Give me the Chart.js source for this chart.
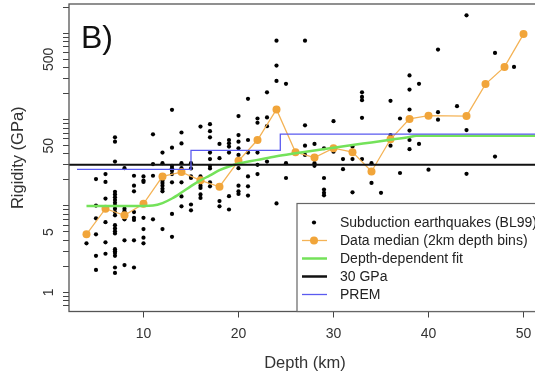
<!DOCTYPE html>
<html>
<head>
<meta charset="utf-8">
<script src="https://cdn.jsdelivr.net/npm/chart.js@4/dist/chart.umd.min.js"></script>
<style>
    html, body { margin: 0; padding: 0; background: #fff; overflow: hidden; }
    #wrap { width: 545px; height: 377px; }
</style>
</head>
<body>
<div id="wrap"><canvas id="rigidity-chart" width="545" height="377"></canvas></div>
<script>
// earthquakes (BL99), one depth per value
const quakeDepths = [
    4,
    5, 5, 5, 5, 5, 5,
    6, 6, 6, 6, 6, 6,
    7, 7, 7, 7, 7, 7, 7, 7, 7, 7, 7, 7, 7, 7, 7, 7, 7, 7, 7, 7, 7, 7,
    8, 8, 8, 8, 8, 8,
    9, 9, 9, 9, 9, 9, 9, 9,
    10, 10, 10, 10, 10, 10, 10,
    11, 11, 11, 11,
    12, 12, 12, 12, 12, 12, 12, 12,
    13, 13, 13, 13, 13, 13, 13, 13, 13,
    14, 14, 14, 14, 14, 14, 14, 14,
    15, 15, 15, 15, 15, 15,
    16, 16, 16, 16, 16, 16,
    17, 17, 17, 17, 17, 17, 17, 17, 17,
    18, 18, 18, 18,
    19, 19, 19, 19, 19, 19,
    20, 20, 20, 20, 20, 20, 20, 20, 20,
    21, 21, 21, 21, 21, 21,
    22, 22, 22, 22, 22,
    23, 23, 23, 23,
    24, 24, 24, 24,
    25, 25, 25,
    27, 27, 27, 27,
    28, 28, 28,
    29, 29, 29, 29, 29,
    30, 30,
    31, 31,
    32, 32, 32,
    33, 33, 33, 33, 33,
    34, 34,
    35,
    36, 36, 36,
    37, 37,
    38, 38, 38, 38, 38, 38,
    39, 39,
    40,
    41, 41, 41,
    43,
    44, 44, 44,
    47, 47,
    49
];
const quakeRigidity = [
    3.7,
    20.5, 10.1, 7.2, 4.7, 2.65, 1.82,
    23.4, 19.0, 12.2, 6.5, 3.8, 2.8,
    62.4, 55.5, 32.7, 14.6, 13.6, 12.6, 11.7, 10.9, 10.1, 9.3, 8.5, 7.8, 6.0, 5.5, 5.1, 4.8, 3.16, 3.0, 2.85, 2.65, 1.94, 1.68,
    27.4, 9.3, 8.7, 7.0, 4.0, 2.07,
    22.4, 17.2, 14.8, 8.5, 7.3, 6.9, 4.0, 1.94,
    22.0, 19.7, 19.0, 7.3, 5.4, 4.3, 3.7,
    67.5, 30.6, 22.4, 7.0,
    41.6, 31.3, 19.7, 18.5, 17.2, 15.8, 14.8, 5.4,
    130, 47.3, 29.2, 27.4, 25.6, 23.4, 18.8, 8.1, 4.4,
    71, 53, 31.3, 27.4, 25.8, 18.8, 12.9, 9.9,
    31.3, 27.2, 22.0, 21.1, 10.4, 8.9,
    83, 22, 17.2, 16.2, 13.6, 12.4,
    88.6, 73.6, 62.4, 41.6, 34.9, 29.2, 27.2, 18.8, 16.9,
    52.3, 35.8, 11.4, 9.9,
    58.1, 53.2, 48.7, 41.6, 13, 9.1,
    110, 66.3, 55.5, 46.6, 39, 27.4, 17.2, 14.8, 13.8,
    174, 58.1, 41.6, 22, 16.9, 13.2,
    103, 92, 41.6, 30, 23.4,
    207, 106, 84, 32.7,
    820, 423, 281, 10.7,
    260, 31.3, 21.1,
    820, 86, 50, 39,
    52.3, 31.3, 29.2,
    46.6, 21.1, 15.5, 14.2, 13.3,
    96, 42.6,
    34.9, 26.7,
    48.7, 34.9, 14.4,
    207, 183, 168, 105, 34.9,
    31.3, 18.5,
    14.2,
    165, 66.3, 50,
    103, 24.1,
    325, 223, 131, 74.6, 58.1, 45.5,
    260, 52.3,
    26.3,
    647, 122, 100,
    143,
    1615, 75.7, 23.6,
    593, 37.3,
    408
];

// data median in 2 km depth bins
const medianDepths = [4, 6, 8, 10, 12, 14, 16, 18, 20, 22, 24, 26, 28, 30, 32, 34, 36, 38, 40, 44, 46, 48, 50];
const medianRigidity = [4.7, 9.3, 7.8, 10.6, 22.0, 24.7, 19.8, 16.7, 33.3, 58.1, 131, 42.0, 36.4, 46.7, 42.0, 25.1, 59.2, 102, 111, 110, 258, 408, 979];

// depth-dependent fit
const fitDepths = [4, 10, 11, 12, 13, 14, 15, 16, 17, 18, 19, 20, 22, 24, 26, 28, 30, 32, 34, 36, 38, 38.7, 52];
const fitRigidity = [10, 10, 10.1, 10.8, 12.2, 14.3, 17, 19.8, 22.6, 26, 28.7, 31, 34.2, 37.7, 40.8, 44, 47.3, 50.8, 54.5, 58.5, 63, 65, 65];

// PREM steps
const premDepths = [3, 15, 15, 24.4, 24.4, 52];
const premRigidity = [26.6, 26.6, 44.1, 44.1, 67.8, 67.8];

const refRigidity = 30;

const xTicks = [10, 20, 30, 40, 50];
const yLabels = [1, 5, 50, 500];
const yMantissas = [1, 2, 3, 4, 5, 6, 7, 8, 9];

const xMin = 2.16, xMax = 51.84;
const yMin = 0.621, yMax = 2183;

const legendItems = [
    { text: 'Subduction earthquakes (BL99)', kind: 'dot' },
    { text: 'Data median (2km depth bins)', kind: 'median' },
    { text: 'Depth-dependent fit', kind: 'line', color: '#74e25a', width: 2.5 },
    { text: '30 GPa', kind: 'line', color: '#111', width: 2.5 },
    { text: 'PREM', kind: 'line', color: '#5a5af0', width: 1.3 }
];

const orangePoint = '#f1a53a';
const orangeLine = '#f4b356';
const fontName = '"Liberation Sans", Arial, sans-serif';

document.addEventListener('DOMContentLoaded', () => {
    const ctx = document.getElementById('rigidity-chart').getContext('2d');

    const toPoints = (xs, ys) => xs.map((x, i) => ({ x, y: ys[i] }));

    const yTickValues = [0.7, 0.8, 0.9];
    [1, 10, 100, 1000].forEach(dec => yMantissas.forEach(m => yTickValues.push(m * dec)));
    yTickValues.push(2000);

    const decorPlugin = {
        id: 'decor',
        afterDatasetsDraw(chart) {
            const c = chart.ctx;
            const area = chart.chartArea;
            const yScale = chart.scales.y;

            c.save();
            // plot frame
            c.strokeStyle = '#555';
            c.lineWidth = 1.3;
            c.strokeRect(area.left, area.top, area.right - area.left, area.bottom - area.top);

            // panel letter
            c.fillStyle = '#111';
            c.font = '32px ' + fontName;
            c.textAlign = 'left';
            c.textBaseline = 'alphabetic';
            c.fillText('B)', 81, 48);

            // y tick labels, rotated like R
            c.font = '14px ' + fontName;
            c.fillStyle = '#333';
            yLabels.forEach(v => {
                const py = yScale.getPixelForValue(v);
                c.save();
                c.translate(53, py);
                c.rotate(-Math.PI / 2);
                c.textAlign = 'center';
                c.fillText(String(v), 0, 0);
                c.restore();
            });

            // axis titles
            c.font = '16.5px ' + fontName;
            c.textAlign = 'center';
            c.textBaseline = 'middle';
            c.fillText('Depth (km)', (area.left + area.right) / 2, 363);
            c.save();
            c.translate(18, (area.top + area.bottom) / 2);
            c.rotate(-Math.PI / 2);
            c.fillText('Rigidity (GPa)', 0, 0);
            c.restore();

            // legend box
            const boxLeft = 297, boxTop = 203.5;
            c.fillStyle = '#fff';
            c.fillRect(boxLeft, boxTop, 260, area.bottom - boxTop);
            c.strokeStyle = '#666';
            c.lineWidth = 1.2;
            c.strokeRect(boxLeft, boxTop, 260, area.bottom - boxTop);

            legendItems.forEach((item, i) => {
                const ry = 222.5 + i * 18;
                if (item.kind === 'dot') {
                    c.fillStyle = '#000';
                    c.beginPath();
                    c.arc(314, ry, 2.1, 0, Math.PI * 2);
                    c.fill();
                } else if (item.kind === 'median') {
                    c.strokeStyle = orangeLine;
                    c.lineWidth = 1.3;
                    c.beginPath();
                    c.moveTo(302, ry);
                    c.lineTo(327, ry);
                    c.stroke();
                    c.fillStyle = orangePoint;
                    c.beginPath();
                    c.arc(314, ry, 4, 0, Math.PI * 2);
                    c.fill();
                } else {
                    c.strokeStyle = item.color;
                    c.lineWidth = item.width;
                    c.beginPath();
                    c.moveTo(302, ry);
                    c.lineTo(327, ry);
                    c.stroke();
                }
                c.fillStyle = '#222';
                c.font = '14px ' + fontName;
                c.textAlign = 'left';
                c.textBaseline = 'middle';
                c.fillText(item.text, 340, ry + 0.5);
            });
            c.restore();
        }
    };

    new Chart(ctx, {
        type: 'scatter',
        data: {
            datasets: [
                {
                    label: 'PREM',
                    data: toPoints(premDepths, premRigidity),
                    showLine: true,
                    borderColor: '#5a5af0',
                    borderWidth: 1.3,
                    pointRadius: 0,
                    order: 1
                },
                {
                    label: '30 GPa',
                    data: [{ x: xMin, y: refRigidity }, { x: xMax, y: refRigidity }],
                    showLine: true,
                    borderColor: '#111',
                    borderWidth: 2,
                    pointRadius: 0,
                    order: 2
                },
                {
                    label: 'Depth-dependent fit',
                    data: toPoints(fitDepths, fitRigidity),
                    showLine: true,
                    borderColor: '#74e25a',
                    borderWidth: 2.5,
                    pointRadius: 0,
                    cubicInterpolationMode: 'monotone',
                    order: 3
                },
                {
                    label: 'Data median (2km depth bins)',
                    data: toPoints(medianDepths, medianRigidity),
                    showLine: true,
                    borderColor: orangeLine,
                    borderWidth: 1.3,
                    pointRadius: 4,
                    pointBackgroundColor: orangePoint,
                    pointBorderWidth: 0,
                    order: 4
                },
                {
                    label: 'Subduction earthquakes (BL99)',
                    data: toPoints(quakeDepths, quakeRigidity),
                    pointRadius: 2.1,
                    pointBackgroundColor: '#000',
                    pointBorderWidth: 0,
                    order: 5
                }
            ]
        },
        options: {
            responsive: false,
            animation: false,
            layout: { padding: { left: 0, right: 2, top: 3, bottom: 0 } },
            plugins: {
                legend: { display: false },
                tooltip: { enabled: false }
            },
            scales: {
                x: {
                    type: 'linear',
                    min: xMin,
                    max: xMax,
                    afterBuildTicks: scale => { scale.ticks = xTicks.map(v => ({ value: v })); },
                    afterFit: scale => { scale.height = 65.5; },
                    border: { display: false },
                    grid: { display: true, drawOnChartArea: false, drawTicks: true, tickLength: 6, tickColor: '#444', color: '#444' },
                    ticks: {
                        padding: 8,
                        color: '#333',
                        font: { family: fontName, size: 14 },
                        maxRotation: 0,
                        callback: v => String(v)
                    }
                },
                y: {
                    type: 'logarithmic',
                    min: yMin,
                    max: yMax,
                    afterBuildTicks: scale => { scale.ticks = yTickValues.map(v => ({ value: v })); },
                    afterFit: scale => { scale.width = 69; },
                    border: { display: false },
                    grid: { display: true, drawOnChartArea: false, drawTicks: true, tickLength: 6, tickColor: '#444', color: '#444' },
                    ticks: { display: false }
                }
            }
        },
        plugins: [decorPlugin]
    });
});
</script>
</body>
</html>
